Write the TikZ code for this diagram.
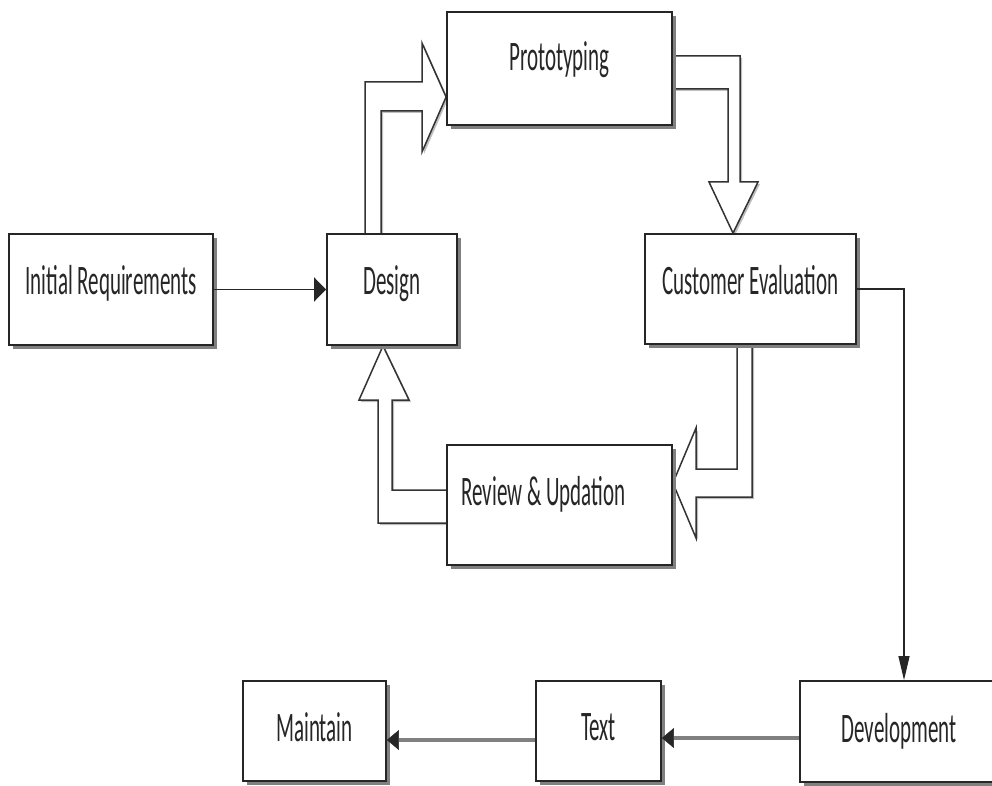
\documentclass[tikz,border=0pt]{standalone}
\usepackage{fontspec}
\newfontfamily\stagefont[FakeStretch=0.5]{Carlito}
\usetikzlibrary{arrows.meta,shadows,backgrounds}

\tikzset{
	stage/.style={draw=black!85, line width=1.8pt, fill=white,
		drop shadow={shadow xshift=4pt, shadow yshift=-4pt, fill=black!50, opacity=1},
		font=\stagefont\fontsize{42pt}{48pt}\selectfont, text=black!85,
		text height=27pt, text depth=#1, inner sep=0pt},
	stage/.default=18pt,
	hollowArrow/.style={draw=black!80, line width=1.5pt, fill=white, line join=miter,
		drop shadow={shadow xshift=2pt, shadow yshift=-2pt, fill=black!25, opacity=1}},
	flowArrow/.style={draw=black!85, line width=1.6pt, -{Triangle[length=12pt,width=24pt]}},
	grayArrow/.style={draw=black!50, line width=3.5pt,
		-{Triangle[length=12pt,width=20pt,color=black!85,line width=0.5pt]}}
}

\begin{document}
\begin{tikzpicture}[x=1pt, y=-1pt]
	\useasboundingbox (0,0) rectangle (992,786);
	% stages
	\node[stage, minimum width=204pt, minimum height=111pt] (init) at (111,289.5) {Initial Requirements};
	\node[stage, minimum width=130pt, minimum height=111pt] (design) at (392,289.5) {Design};
	\node[stage=22pt, minimum width=225pt, minimum height=113pt] (proto) at (559.5,68.5) {Prototyping};
	\node[stage=17pt, minimum width=211pt, minimum height=110pt] (custeval) at (750.5,289) {Customer Evaluation};
	\node[stage=27pt, minimum width=225pt, minimum height=120pt] (review) at (559.5,505) {Review \& Updation\hspace*{32pt}};
	\node[stage=5pt, minimum width=208pt, minimum height=101pt] (devel) at (904,731.5) {Development\hspace*{10pt}};
	\node[stage=9pt, minimum width=125pt, minimum height=100pt] (textbox) at (598.5,731) {Text};
	\node[stage=7pt, minimum width=143pt, minimum height=100pt] (maintain) at (314.5,731) {Maintain};

	% prototype loop
	\begin{scope}[on background layer]
		\draw[hollowArrow] (design.north -| 365,0) |- (422,82) -- (422,43) -- (proto.west |- 0,97)
			-- (422,152) -- (422,111) -| (design.north -| 381,0);
		\draw[hollowArrow] (proto.east |- 0,56) -| (740,182) -- (758,182) -- (custeval.north -| 733,0)
			-- (709,182) -- (728,182) |- (proto.east |- 0,89);
		\draw[hollowArrow] (custeval.south -| 752,0) |- (696,497) -- (696,538) -- (review.east |- 0,483)
			-- (696,428) -- (696,469) -| (custeval.south -| 737,0);
		\draw[hollowArrow] (review.west |- 0,523) -| (378,400) -- (359,400) -- (design.south -| 383,0)
			-- (409,400) -- (392,400) |- (review.west |- 0,490);
	\end{scope}

	% plain flow
	\draw[flowArrow] (init.east) -- (design.west);
	\draw[flowArrow, line width=1.3pt, -{Triangle[length=24pt,width=11pt]}] (custeval.east) -| (devel.north);
	\draw[grayArrow] (devel.west |- 0,738) -- (textbox.east |- 0,738);
	\draw[grayArrow] (textbox.west |- 0,740) -- (maintain.east |- 0,740);
\end{tikzpicture}
\end{document}
